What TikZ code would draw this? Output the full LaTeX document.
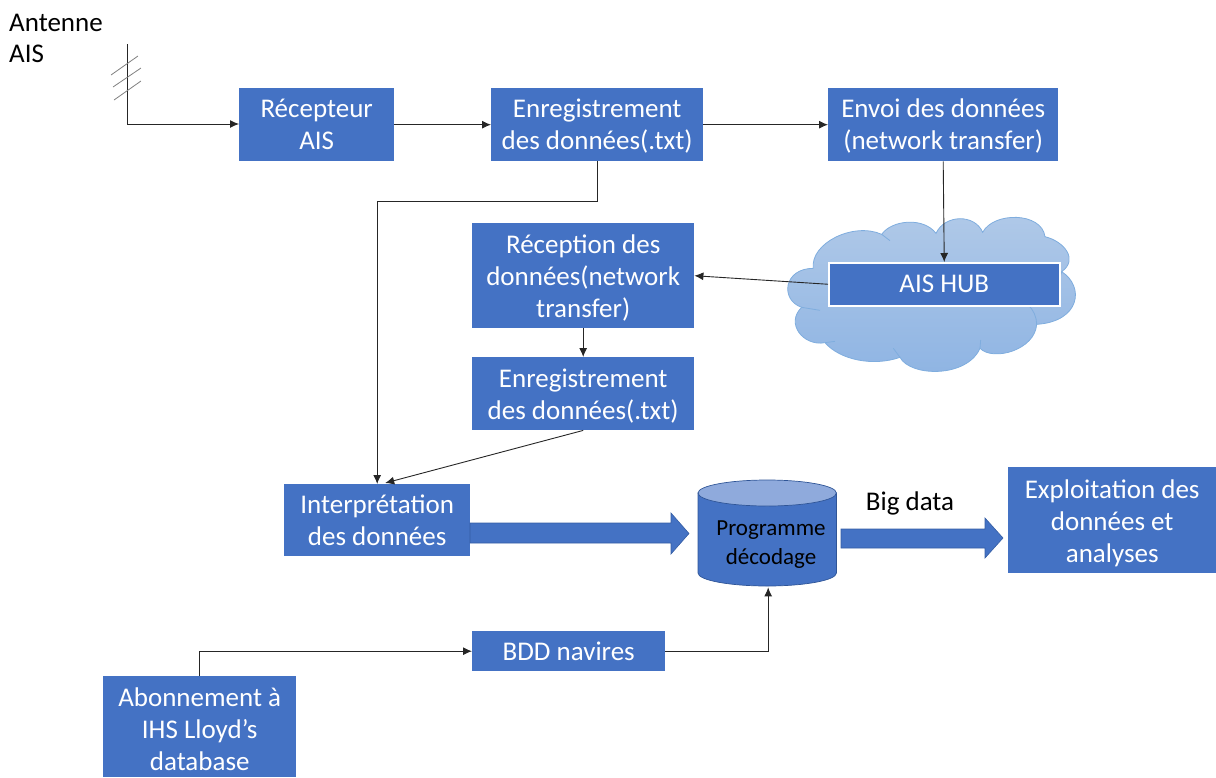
\documentclass[tikz,border=0pt]{standalone}
\usepackage{fontspec}
\setmainfont{Carlito}
\usetikzlibrary{arrows.meta,calc}
\definecolor{boxblue}{HTML}{4472C4}
\definecolor{edgeblue}{HTML}{2F5597}
\definecolor{cloudtop}{HTML}{B0C9E8}
\definecolor{cloudbot}{HTML}{8EB4E3}
\definecolor{cloudedge}{HTML}{7FADDE}
\definecolor{captop}{HTML}{8FAADC}
\tikzset{
  x=1pt,y=-1pt,
  flowbox/.style={fill=boxblue,text=white,align=center,inner sep=0pt,anchor=north west,
    font=\fontsize{27}{32}\selectfont},
  link/.style={draw=black!85,line width=0.9pt,-{Latex[length=9pt,width=8pt]}},
  label/.style={text=black,align=left,inner sep=0pt,font=\fontsize{27}{31}\selectfont},
  bigarrow/.style={fill=boxblue,draw=edgeblue!70!boxblue,line width=0.6pt},
}
\newcommand{\flownode}[6]{% name, x0, y0, x1, y1, text
  \node[flowbox,minimum width=\dimexpr #4pt-#2pt\relax,minimum height=\dimexpr #5pt-#3pt\relax] (#1) at (#2,#3) {#6};}
\newcommand{\lowerA}{\rule{0pt}{24pt}}
\newcommand{\lowerB}{\rule{0pt}{22pt}}
\begin{document}
\begin{tikzpicture}
\useasboundingbox (0,0) rectangle (1216,777);

% cloud
\begin{scope}[shift={(760,200)},x=0.33333pt,y=-0.33333pt]
  \shade[top color=cloudtop,bottom color=cloudbot,draw=cloudedge,line width=0.8pt]
    (160,205) .. controls (150,130) and (280,65) .. (365,103)
    .. controls (395,60) and (490,50) .. (528,100)
    .. controls (555,42) and (645,42) .. (668,97)
    .. controls (700,35) and (845,35) .. (855,110)
    .. controls (915,125) and (955,180) .. (905,215)
    .. controls (975,260) and (960,365) .. (830,373)
    .. controls (825,450) and (700,485) .. (660,445)
    .. controls (620,535) and (450,530) .. (420,472)
    .. controls (340,500) and (240,480) .. (195,428)
    .. controls (130,440) and (75,370) .. (125,322)
    .. controls (60,300) and (70,205) .. (160,205) -- cycle;
  \draw[cloudedge,line width=0.8pt] (365,103) -- (390,122);
  \draw[cloudedge,line width=0.8pt] (905,215) -- (898,240);
  \draw[cloudedge,line width=0.8pt] (830,373) .. controls (830,350) and (820,330) .. (805,315);
  \draw[cloudedge,line width=0.8pt] (660,445) -- (662,420);
  \draw[cloudedge,line width=0.8pt] (420,472) -- (400,445);
  \draw[cloudedge,line width=0.8pt] (195,428) -- (225,424);
  \draw[cloudedge,line width=0.8pt] (125,322) -- (180,331);
\end{scope}

% boxes
\flownode{recv}{239}{88}{394}{161}{Récepteur\\AIS}
\flownode{save}{491}{88}{703}{161}{\lowerB Enregistrement\\des données(.txt)}
\flownode{send}{828}{88}{1058}{161}{\lowerB Envoi des données\\(network transfer)}
\flownode{rece}{472}{223}{694}{328}{\lowerA Réception des\\données(network\\transfer)}
\flownode{savb}{472}{357}{694}{430}{\lowerA Enregistrement\\des données(.txt)}
\flownode{inter}{284}{484}{470}{556}{Interprétation\\des données}
\flownode{expl}{1008}{467}{1216}{573}{\lowerA Exploitation des\\données et\\analyses}
\flownode{bdd}{472}{631}{665}{671}{BDD navires}
\flownode{abon}{103}{676}{296}{777}{\lowerA Abonnement à\\IHS Lloyd’s\\database}
\node[flowbox,draw=white,line width=1.5pt,minimum width=231pt,minimum height=43pt] (hub) at (828,262) {AIS HUB};

% cylinder
\path[fill=boxblue,draw=edgeblue,line width=0.7pt] (698,493) -- (698,573)
  arc[start angle=180,end angle=360,x radius=69.2pt,y radius=13pt] -- (836.4,493) -- cycle;
\draw[edgeblue,fill=captop,line width=0.7pt] (767.2,493) ellipse[x radius=69.2pt,y radius=13pt];
\node[inner sep=0pt,minimum width=138pt,minimum height=106pt,anchor=north west] (prog) at (698,480) {};
\node[text=black,align=center,inner sep=0pt,font=\fontsize{23}{29}\selectfont] (progtext) at (771,545) {Programme\\décodage};

% big arrows
\path[bigarrow] (470,523) -- (671,523) -- (671,513) -- (689,533.5) -- (671,554) -- (671,543) -- (470,543) -- cycle;
\path[bigarrow] (841,529) -- (985,529) -- (985,518) -- (1003,538) -- (985,558) -- (985,548) -- (841,548) -- cycle;

% labels
\node[label,anchor=north west] (ant) at (9,14) {Antenne\\AIS};
\node[label] (big) at (910,503) {Big data};

% antenna
\coordinate (anttop) at (127,44);
\coordinate (antcorner) at (127,124);
\draw[link] (anttop) -- (antcorner) -- (recv.west |- antcorner);
\coordinate (t1a) at (111,75); \coordinate (t1b) at (138,56);
\coordinate (t2a) at (113,87); \coordinate (t2b) at (141,68);
\coordinate (t3a) at (114,100); \coordinate (t3b) at (141,81);
\draw[draw=black!50,line width=0.8pt] (t1a) -- (t1b) (t2a) -- (t2b) (t3a) -- (t3b);

% connectors
\draw[link] (recv.east) -- (save.west);
\draw[link] (save.east) -- (send.west);
\draw[link] (save.south) -- ++(0,40) -| (inter.north);
\draw[link] (send.south) -- (hub.north);
\draw[link] (hub.west) -- (rece.east);
\draw[link] (rece.south) -- (savb.north);
\coordinate (intin) at ($(inter.north)+(8,-1)$);
\draw[link] (savb.south) -- (intin);
\coordinate (progin) at ($(prog.south)+(1,1)$);
\draw[link] (bdd.east) -| (progin);
\draw[link] (abon.north) |- (bdd.west);
\end{tikzpicture}
\end{document}
